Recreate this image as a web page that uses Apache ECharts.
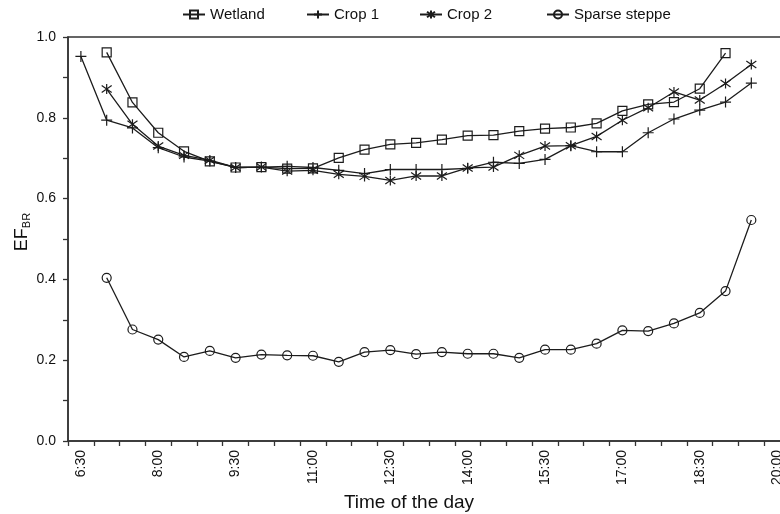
<!DOCTYPE html>
<html>
<head>
<meta charset="utf-8">
<script src="https://cdn.jsdelivr.net/npm/echarts@6/dist/echarts.min.js"></script>
<style>html,body{margin:0;padding:0;background:#fff}#c{width:780px;height:514px}</style>
</head>
<body>
<div id="c"></div>
<script>
const categories = ['6:30','7:00','7:30','8:00','8:30','9:00','9:30','10:00','10:30','11:00','11:30','12:00','12:30','13:00','13:30','14:00','14:30','15:00','15:30','16:00','16:30','17:00','17:30','18:00','18:30','19:00','19:30','20:00'];
const wetland = [null,0.962,0.838,0.763,0.717,0.692,0.677,0.678,0.674,0.675,0.701,0.721,0.734,0.738,0.746,0.756,0.757,0.767,0.773,0.776,0.786,0.817,0.833,0.839,0.872,0.960,null,null];
const crop1 = [0.952,0.794,0.775,0.726,0.703,0.693,0.677,0.678,0.680,0.677,0.670,0.662,0.672,0.672,0.672,0.675,0.690,0.687,0.697,0.731,0.716,0.716,0.763,0.797,0.819,0.839,0.886,null];
const crop2 = [null,0.871,0.784,0.730,0.707,0.695,0.677,0.678,0.668,0.670,0.660,0.655,0.645,0.656,0.656,0.676,0.678,0.707,0.730,0.731,0.754,0.794,0.825,0.864,0.844,0.885,0.932,null];
const sparse = [null,0.404,0.276,0.251,0.208,0.223,0.206,0.214,0.212,0.211,0.196,0.220,0.225,0.215,0.220,0.216,0.216,0.206,0.226,0.226,0.241,0.274,0.272,0.291,0.317,0.371,0.547,null];
const seriesNames = ['Wetland','Crop 1','Crop 2','Sparse steppe'];

const ink = '#1c1c1c';
const FONT = 'Liberation Sans, Arial, sans-serif';
const plusPath = 'path://M0,5L10,5M5,0L5,10';
const starPath = 'path://M5,0L5,10M0.8,1.5L9.2,8.5M0.8,8.5L9.2,1.5';

function mk(name, data, symbol, size) {
  return {
    name: name, type: 'line', data: data, symbol: symbol, symbolSize: size,
    showAllSymbol: true,
    lineStyle: { color: ink, width: 1.3 },
    itemStyle: { color: 'rgba(0,0,0,0)', borderColor: ink, borderWidth: 1.2 },
    emphasis: { disabled: true },
    animation: false
  };
}

const chart = echarts.init(document.getElementById('c'));
const legendBase = { top: 7, padding: 0, itemWidth: 22, itemHeight: 10, itemGap: 0,
  textStyle: { fontFamily: FONT, fontSize: 15, color: '#111' }, selectedMode: false };
chart.setOption({
  animation: false,
  legend: [
    Object.assign({ left: 182, data: [seriesNames[0]] }, legendBase),
    Object.assign({ left: 306, data: [seriesNames[1]] }, legendBase),
    Object.assign({ left: 419, data: [seriesNames[2]] }, legendBase),
    Object.assign({ left: 546, data: [seriesNames[3]] }, legendBase)
  ],
  grid: { left: 68, right: -10, top: 37, bottom: 73, containLabel: false, outerBoundsMode: 'none',
    show: true, borderColor: '#333', borderWidth: 1.5, backgroundColor: 'transparent' },
  xAxis: {
    type: 'category', data: categories, boundaryGap: true,
    name: 'Time of the day', nameLocation: 'middle', nameGap: 50,
    nameTextStyle: { fontFamily: FONT, fontSize: 19, color: '#111', padding: [0, 40, 0, 0] },
    axisLine: { lineStyle: { color: '#333', width: 1.5 } },
    axisTick: { show: true, interval: 0, length: 5, lineStyle: { color: '#333', width: 1.3 } },
    axisLabel: { interval: 2, rotate: 90, margin: 9, fontFamily: FONT, fontSize: 14, color: '#111' },
    splitLine: { show: false }
  },
  yAxis: {
    type: 'value', min: 0, max: 1, interval: 0.1,
    name: '{a|EF}{b|BR}', nameLocation: 'middle', nameGap: 36, nameRotate: 90, nameMoveOverlap: false,
    nameTextStyle: { fontFamily: FONT, color: '#111', padding: [0, 0, 0, 14],
      rich: { a: { fontFamily: FONT, fontSize: 18, color: '#111' }, b: { fontFamily: FONT, fontSize: 11, color: '#111', verticalAlign: 'bottom', padding: [8, 0, 0, 0] } } },
    axisLine: { show: true, lineStyle: { color: '#333', width: 1.5 } },
    axisTick: { show: true, length: 5, lineStyle: { color: '#333', width: 1.3 } },
    axisLabel: { margin: 12, fontFamily: FONT, fontSize: 14, color: '#111',
      formatter: function (v) { return Math.round(v * 10) % 2 === 0 ? v.toFixed(1) : ''; } },
    splitLine: { show: false }
  },
  series: [
    mk(seriesNames[0], wetland, 'rect', 9),
    mk(seriesNames[1], crop1, plusPath, 11),
    mk(seriesNames[2], crop2, starPath, 10),
    mk(seriesNames[3], sparse, 'circle', 9)
  ]
});
</script>
</body>
</html>
